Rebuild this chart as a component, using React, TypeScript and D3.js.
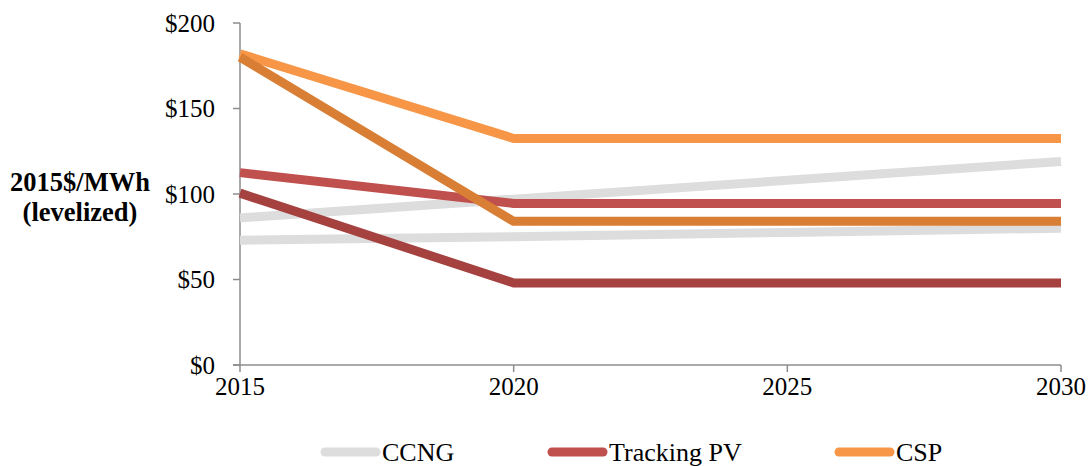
import React from "react";
import * as d3 from "d3";

const years = [2015, 2020, 2025, 2030];
const yTicks = [0, 50, 100, 150, 200];
const xTicks = [2015, 2020, 2025, 2030];

const ccngHigh = [86, 97, 108, 119];
const ccngLow = [73, 75, 77.5, 80];
const pvHigh = [112.5, 94.5, 94.5, 94.5];
const pvLow = [100.5, 48, 48, 48];
const cspHigh = [182, 132.5, 132.5, 132.5];
const cspLow = [180, 84, 84, 84];

const seriesNames = ["CCNG high", "CCNG low", "Tracking PV high", "Tracking PV low", "CSP high", "CSP low"];
const seriesValues = [ccngHigh, ccngLow, pvHigh, pvLow, cspHigh, cspLow];
const seriesColors = ["#DDDDDD", "#DDDDDD", "#C0504D", "#A5413F", "#F79646", "#D97F35"];

const legendNames = ["CCNG", "Tracking PV", "CSP"];
const legendColors = ["#DDDDDD", "#C0504D", "#F79646"];
const legendX = [321, 548, 835];

export default function App() {
  const W = 1091, H = 466;
  const x = d3.scaleLinear().domain([2015, 2030]).range([240, 1061]);
  const y = d3.scaleLinear().domain([0, 200]).range([365, 23]);
  const line = d3.line<number>().x((_, i) => x(years[i])).y((d) => y(d));
  const axisColor = "#8C8C8C";
  const font = "'Liberation Serif', 'Times New Roman', serif";
  return (
    <svg width={W} height={H} style={{ position: "absolute", left: 0, top: 0 }} fontFamily={font}>
      <rect width={W} height={H} fill="#fff" />
      {/* y axis */}
      <line x1={x(2015)} x2={x(2015)} y1={y(200)} y2={y(0)} stroke={axisColor} strokeWidth={1.5} />
      {yTicks.map((t) => (
        <g key={t}>
          <line x1={x(2015) - 7} x2={x(2015)} y1={y(t)} y2={y(t)} stroke={axisColor} strokeWidth={1.5} />
          <text x={215} y={y(t)} dy="0.35em" textAnchor="end" fontSize={25} fill="#000">
            {"$" + t}
          </text>
        </g>
      ))}
      {/* x axis */}
      <line x1={x(2015) - 7} x2={x(2030)} y1={y(0)} y2={y(0)} stroke={axisColor} strokeWidth={1.5} />
      {xTicks.map((t) => (
        <g key={t}>
          <line x1={x(t)} x2={x(t)} y1={y(0)} y2={y(0) + 7} stroke={axisColor} strokeWidth={1.5} />
          <text x={x(t)} y={395} textAnchor="middle" fontSize={25} fill="#000">
            {t}
          </text>
        </g>
      ))}
      {/* series */}
      {seriesValues.map((vals, i) => (
        <path key={seriesNames[i]} d={line(vals) || ""} fill="none" stroke={seriesColors[i]} strokeWidth={9} strokeLinejoin="round" />
      ))}
      {/* y title */}
      <text x={80} y={191} textAnchor="middle" fontSize={26.5} fontWeight="bold" fill="#000">
        <tspan x={80}>2015$/MWh</tspan>
        <tspan x={80} dy={30}>(levelized)</tspan>
      </text>
      {/* legend */}
      {legendNames.map((n, i) => (
        <g key={n}>
          <line x1={legendX[i] + 4} x2={legendX[i] + 55} y1={452} y2={452} stroke={legendColors[i]} strokeWidth={9} strokeLinecap="round" />
          <text x={legendX[i] + 61} y={461} fontSize={26} fill="#000">
            {n}
          </text>
        </g>
      ))}
    </svg>
  );
}
